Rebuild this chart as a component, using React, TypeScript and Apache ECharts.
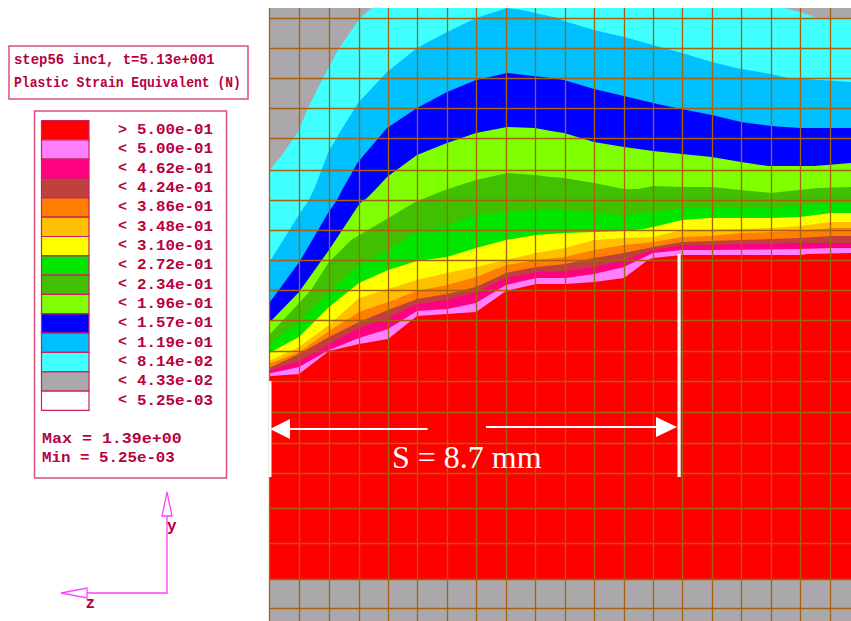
import React, { useEffect, useRef } from "react";
import * as echarts from "echarts";

// mesh node lines
const meshX = [269.5, 299.5, 329.5, 359.5, 388.5, 417.5, 447.5, 476.5, 506.5, 535.5, 565.5, 594.5, 624.5, 653.5, 682.5, 712.5, 741.5, 771.5, 800.5, 830.5];
const meshY = [18.5, 48.5, 78.5, 108.5, 138.5, 170.5, 200.5, 230.5, 260.5, 290.5, 320.5, 351.5, 381.5, 412.5, 443.5, 473.5, 508.5, 543.5, 579.5, 608.5];

// contour level boundaries, [z position, y position], upper edge of each band
const cyanTop = [[269,173],[270,170],[282,155],[298,132],[308,108],[323,78],[338,50],[360,18],[372,8],[784,8],[800,12],[816,17.5],[851,18]];
const lightBlueTop = [[269,262],[272,258],[300,213],[309,200],[315,187],[328,153],[340,132],[358,103],[387,72],[417,48],[447,32],[476,18],[507,8],[522,10],[535,13],[558,18],[564,21],[594,30],[624,37],[653,45],[682,53],[712,62],[741,69],[771,74],[788,78],[821,80],[851,82]];
const blueTop = [[269,304],[270,302],[300,261],[328,213],[337,200],[342,190],[358,162],[387,128],[417,108],[447,92],[476,80],[507,73],[542,77],[551,78],[564,80],[594,89],[624,96],[653,103],[676,108],[712,115],[741,122],[771,126],[800,128],[851,128]];
const limeTop = [[269,322],[271,321],[299,292],[329,250],[360,203],[367,198],[375,190],[387,177],[417,155],[447,143],[476,133],[507,127],[535,128],[551,131],[564,133],[594,142],[624,147],[653,151],[682,154],[712,157],[741,162],[768,166],[814,166],[851,163]];
const darkGreenTop = [[269,334],[271,333],[299,303],[311,290],[329,262],[351,240],[385,220],[415,202],[425,198],[445,190],[476,180],[507,173],[535,175],[551,177],[564,178],[594,183],[624,189],[638,189],[653,186],[682,187],[712,187],[741,190],[771,193],[789,191],[818,188],[851,187]];
const greenTop = [[269,343],[271,342],[299,322],[329,292],[359,265],[389,250],[417,231],[447,226],[476,215],[506,212],[536,210],[565,210],[594,213],[624,215],[653,212],[682,208],[710,207],[741,208],[771,208],[800,205],[851,203]];
const yellowTop = [[269,353],[271,352],[299,337],[329,307],[359,283],[388,270],[417,261],[447,257],[476,248],[506,240],[536,235],[565,233],[594,232],[624,231],[644,229],[653,227],[682,220],[710,218],[771,218],[800,217],[831,213],[851,213]];
const amberTop = [[269,361],[271,360],[299,347],[329,325],[359,298],[388,289],[417,280],[447,273],[476,267],[506,260],[536,253],[565,248],[594,240],[624,238],[653,237],[682,230],[710,230],[771,228],[800,226],[831,222],[851,222]];
const orangeTop = [[269,364],[271,363],[299,352],[329,331],[359,312],[388,302],[417,291],[447,285],[476,277],[506,265],[536,260],[565,257],[594,250],[624,245],[653,242],[682,237],[710,236],[741,233],[771,232],[800,231],[831,228],[851,228]];
const brownTop = [[269,368],[271,367],[299,354],[329,337],[359,322],[388,310],[417,299],[447,294],[476,287],[506,273],[536,267],[565,264],[594,258],[624,253],[653,247],[682,242],[710,241],[741,240],[771,239],[800,238],[831,236],[851,236]];
const magentaTop = [[269,371],[271,370],[299,361],[329,344],[359,328],[388,318],[417,304],[447,300],[476,292],[506,278],[536,272],[565,271],[594,267],[624,260],[653,250],[682,245],[710,245],[741,244],[800,243],[851,243]];
const pinkTop = [[269,374],[271,373],[299,367],[329,350],[359,338],[388,329],[417,311],[447,309],[476,303],[506,285],[536,278],[565,278],[594,274],[624,267],[653,253],[682,250],[710,250],[800,249],[831,248],[851,248]];
const redTop = [[269,377],[271,376],[299,374],[329,351],[359,344],[388,339],[417,316],[447,314],[476,312],[506,291],[536,284],[565,284],[594,282],[624,278],[648,260],[653,258],[682,255],[710,255],[800,255],[808,254],[851,253]];
const baseTop = [[269,579],[851,579]];
const outerTop = [[269,8],[851,8]];

const bandColors = ["#aaa8aa","#40ffff","#00c0ff","#0000ff","#80ff00","#40c000","#00e600","#ffff00","#ffc000","#ff8000","#c04040","#ff0080","#ff80ff","#ff0000","#aaa8aa"];
const bands = [outerTop,cyanTop,lightBlueTop,blueTop,limeTop,darkGreenTop,greenTop,yellowTop,amberTop,orangeTop,brownTop,magentaTop,pinkTop,redTop,baseTop];
const bandNames = ["outer","cyan","light blue","blue","lime","dark green","green","yellow","amber","orange","brown","magenta","pink","red","die"];

// legend
const legendColors = ["#ff0000","#ff80ff","#ff0080","#c04040","#ff8000","#ffc000","#ffff00","#00e600","#40c000","#80ff00","#0000ff","#00c0ff","#40ffff","#aaa8aa","#ffffff"];
const legendMarks = [">","<","<","<","<","<","<","<","<","<","<","<","<","<","<"];
const legendLabels = ["5.00e-01","5.00e-01","4.62e-01","4.24e-01","3.86e-01","3.48e-01","3.10e-01","2.72e-01","2.34e-01","1.96e-01","1.57e-01","1.19e-01","8.14e-02","4.33e-02","5.25e-03"];
const titleLines = ["step56 inc1, t=5.13e+001","Plastic Strain Equivalent (N)"];
const maxLabel = "Max = 1.39e+00";
const minLabel = "Min = 5.25e-03";
const noteLabel = "S = 8.7 mm";

const INK = "#b8003f";
const BORDER = "#d8507f";
const TRIAD = "#ff40ff";
const MONO = '"Liberation Mono"';

function monoText(text: string, x: number, y: number, size: number, scaleX: number) {
  return {
    type: "text", x, y, scaleX, z: 30,
    style: { text, fill: INK, font: `bold ${size}px ${MONO}`, verticalAlign: "middle", align: "left" },
  };
}

export default function App() {
  const ref = useRef<HTMLDivElement>(null);
  useEffect(() => {
    document.body.style.margin = "0";
    const chart = echarts.init(ref.current!, undefined, { renderer: "svg" });
    const series: any[] = bands.map((data, i) => ({
      type: "line",
      name: bandNames[i],
      data,
      showSymbol: false,
      symbol: "none",
      silent: true,
      lineStyle: { width: 0 },
      areaStyle: { color: bandColors[i], opacity: 1, origin: "end" },
      z: 2,
    }));
    series.push({
      type: "line",
      name: "mesh",
      data: [],
      z: 3,
      silent: true,
      markLine: {
        silent: true,
        symbol: "none",
        animation: false,
        label: { show: false },
        lineStyle: { color: "#a6620f", width: 1.3, type: "solid" },
        data: [...meshX.map((v) => ({ xAxis: v })), ...meshY.map((v) => ({ yAxis: v }))],
      },
    });
    const rowH = 19.33;
    const rowTop = 120.5;
    const graphic: any[] = [
      { type: "rect", z: 30, shape: { x: 9, y: 46, width: 239, height: 53 }, style: { fill: "#fff", stroke: BORDER, lineWidth: 1.5 } },
      monoText(titleLines[0], 14, 60, 15, 0.93),
      monoText(titleLines[1], 14, 82.5, 15, 0.87),
      { type: "rect", z: 30, shape: { x: 34.5, y: 111, width: 192, height: 367 }, style: { fill: "#fff", stroke: BORDER, lineWidth: 1.5 } },
    ];
    legendColors.forEach((c, i) => {
      graphic.push({ type: "rect", z: 31, shape: { x: 41.5, y: rowTop + i * rowH, width: 47.5, height: rowH }, style: { fill: c, stroke: "#c82060", lineWidth: 1.2 } });
      graphic.push(monoText(legendMarks[i], 118, rowTop + i * rowH + 9.5, 15, 1.0));
      graphic.push(monoText(legendLabels[i], 137, rowTop + i * rowH + 9.5, 15, 1.055));
    });
    graphic.push(monoText(maxLabel, 42, 439, 15, 1.11));
    graphic.push(monoText(minLabel, 42, 458, 15, 1.055));
    // axis triad
    graphic.push(
      { type: "polyline", z: 30, shape: { points: [[167, 516], [167, 593], [87, 593]] }, style: { stroke: TRIAD, fill: "none", lineWidth: 1.3 } },
      { type: "polygon", z: 30, shape: { points: [[167, 492], [172, 516], [162, 516]] }, style: { stroke: TRIAD, fill: "#fff", lineWidth: 1.3 } },
      { type: "polygon", z: 30, shape: { points: [[61, 593], [87, 588], [87, 598]] }, style: { stroke: TRIAD, fill: "#fff", lineWidth: 1.3 } },
      monoText("y", 167, 527, 16, 1.0),
      monoText("z", 85.5, 604, 16, 1.0),
    );
    // white annotations
    graphic.push(
      { type: "rect", z: 40, shape: { x: 269, y: 381, width: 2.5, height: 96 }, style: { fill: "#fff" } },
      { type: "rect", z: 40, shape: { x: 677.5, y: 254, width: 3.2, height: 223 }, style: { fill: "#fff" } },
      { type: "line", z: 40, shape: { x1: 288, y1: 429, x2: 427.5, y2: 429 }, style: { stroke: "#fff", lineWidth: 2 } },
      { type: "polygon", z: 40, shape: { points: [[270, 429], [290, 419], [290, 439]] }, style: { fill: "#fff" } },
      { type: "line", z: 40, shape: { x1: 486, y1: 427, x2: 658, y2: 427 }, style: { stroke: "#fff", lineWidth: 2 } },
      { type: "polygon", z: 40, shape: { points: [[677, 427], [656, 417], [656, 437]] }, style: { fill: "#fff" } },
      { type: "text", z: 40, x: 392, y: 457, style: { text: noteLabel, fill: "#fff", font: '32px "Liberation Serif"', verticalAlign: "middle", align: "left" } },
    );
    chart.setOption({
      animation: false,
      backgroundColor: "#ffffff",
      grid: { left: 269, top: 8, width: 582, height: 613, containLabel: false },
      xAxis: { type: "value", min: 269, max: 851, show: false, scale: true },
      yAxis: { type: "value", min: 8, max: 621, inverse: true, show: false, scale: true },
      tooltip: { show: false },
      legend: { show: false },
      series,
      graphic,
    });
    return () => chart.dispose();
  }, []);
  return <div ref={ref} style={{ position: "fixed", left: 0, top: 0, width: 851, height: 621 }} />;
}
